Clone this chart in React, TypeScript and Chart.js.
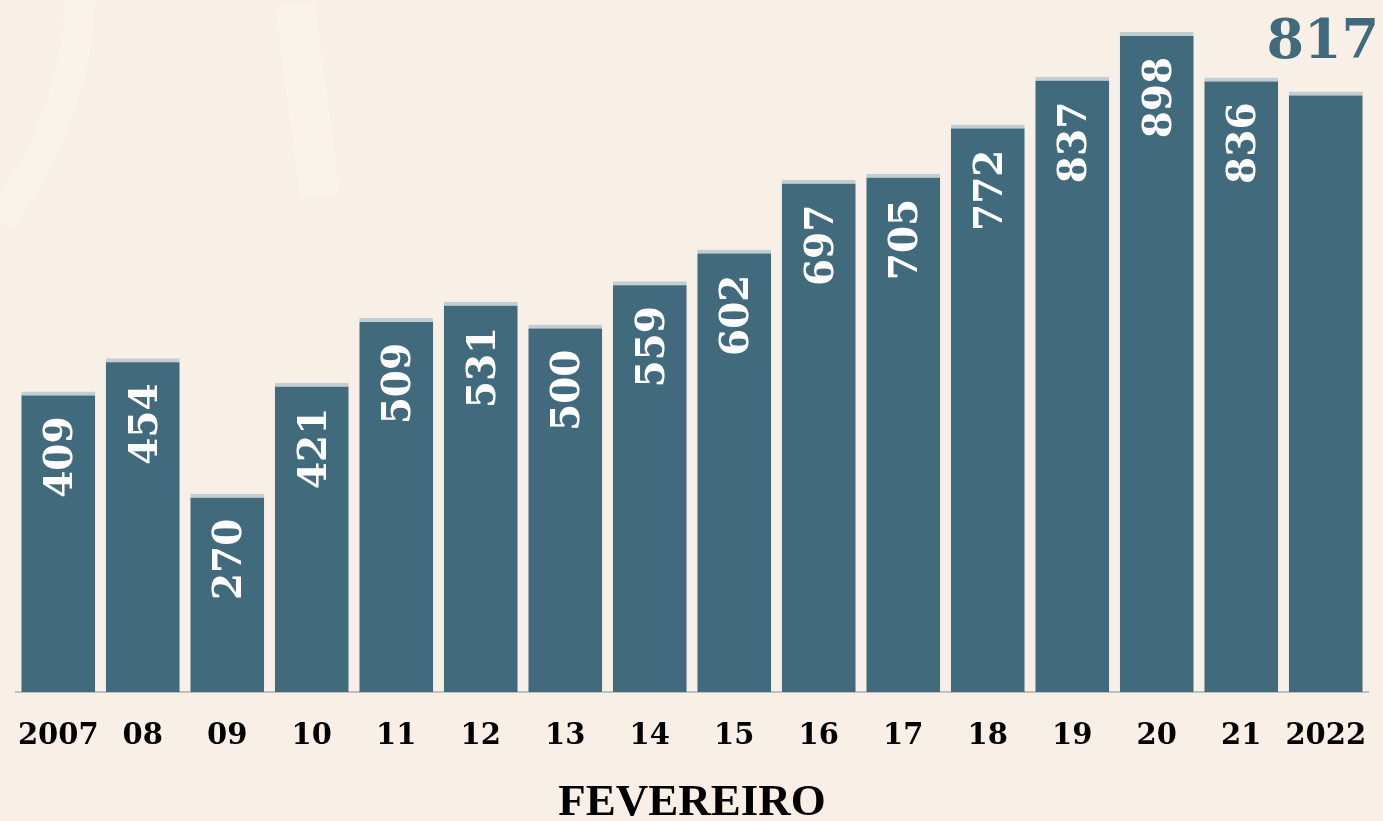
import React, { useEffect, useRef } from "react";
import { Chart, registerables } from "chart.js";

Chart.register(...registerables);

const categories = ["2007", "08", "09", "10", "11", "12", "13", "14", "15", "16", "17", "18", "19", "20", "21", "2022"];
const values = [409, 454, 270, 421, 509, 531, 500, 559, 602, 697, 705, 772, 837, 898, 836, 817];
const axisTitle = "FEVEREIRO";

const BAR = "#416b7c";
const BAR_TOP = "#c3ced4";
const BG = "#f8f0e6";
const NUM_FONT = "'DejaVu Serif', Georgia, serif";

const backgroundPlugin = {
  id: "bg",
  beforeDraw(chart: any) {
    const { ctx, width, height } = chart;
    ctx.save();
    ctx.fillStyle = BG;
    ctx.fillRect(0, 0, width, height);
    // faint decorative highlights
    ctx.globalAlpha = 0.35;
    ctx.strokeStyle = "#fdf9f0";
    ctx.lineWidth = 30;
    ctx.beginPath();
    ctx.moveTo(80, 0);
    ctx.quadraticCurveTo(75, 120, 0, 220);
    ctx.stroke();
    ctx.lineWidth = 40;
    ctx.beginPath();
    ctx.moveTo(295, 5);
    ctx.lineTo(320, 195);
    ctx.stroke();
    ctx.restore();
  },
};

const labelPlugin = {
  id: "barLabels",
  afterDatasetsDraw(chart: any) {
    const { ctx } = chart;
    const meta = chart.getDatasetMeta(0);
    meta.data.forEach((bar: any, i: number) => {
      const v = values[i];
      ctx.save();
      if (i === values.length - 1) {
        ctx.fillStyle = BAR;
        ctx.font = `bold 54px ${NUM_FONT}`;
        ctx.textAlign = "center";
        ctx.textBaseline = "alphabetic";
        ctx.fillText(String(v), bar.x - 3, bar.y - 33);
      } else {
        ctx.fillStyle = "#ffffff";
        ctx.font = `bold 39px ${NUM_FONT}`;
        ctx.translate(bar.x + 4, bar.y + 25);
        ctx.rotate(-Math.PI / 2);
        ctx.textAlign = "right";
        ctx.textBaseline = "middle";
        ctx.fillText(String(v), 0, 0);
      }
      ctx.restore();
    });
  },
};

export default function App() {
  const ref = useRef<HTMLCanvasElement | null>(null);
  useEffect(() => {
    if (!ref.current) return;
    const chart = new Chart(ref.current, {
      type: "bar",
      data: {
        labels: categories,
        datasets: [
          {
            data: values,
            backgroundColor: BAR,
            borderColor: BAR_TOP,
            borderWidth: { top: 4, left: 0, right: 0, bottom: 0 },
            borderSkipped: "bottom",
            categoryPercentage: 1,
            barPercentage: 0.875,
          },
        ],
      },
      options: {
        animation: false,
        responsive: true,
        maintainAspectRatio: false,
        layout: { padding: { top: 1, left: 16, right: 15, bottom: 0 } },
        plugins: { legend: { display: false }, tooltip: { enabled: false } },
        scales: {
          x: {
            afterFit(scale: any) {
              scale.paddingLeft = 0;
              scale.paddingRight = 0;
            },
            grid: { display: true, drawOnChartArea: false, drawTicks: false },
            border: { display: true, color: "#c0c0c0", width: 2 },
            ticks: {
              color: "#000000",
              padding: 27,
              maxRotation: 0,
              minRotation: 0,
              autoSkip: false,
              font: { family: NUM_FONT, size: 29, weight: "bold" },
            },
            title: {
              display: true,
              text: axisTitle,
              color: "#000000",
              font: { family: "'Liberation Serif', 'Times New Roman', serif", size: 45, weight: "bold", lineHeight: 0.8 },
              padding: { top: 4, bottom: 0 },
            },
          },
          y: {
            display: false,
            min: 0,
            max: 940,
          },
        },
      },
      plugins: [backgroundPlugin, labelPlugin],
    });
    return () => chart.destroy();
  }, []);
  return (
    <div style={{ position: "absolute", left: 0, top: 0, width: 1383, height: 821 }}>
      <canvas ref={ref} />
    </div>
  );
}
